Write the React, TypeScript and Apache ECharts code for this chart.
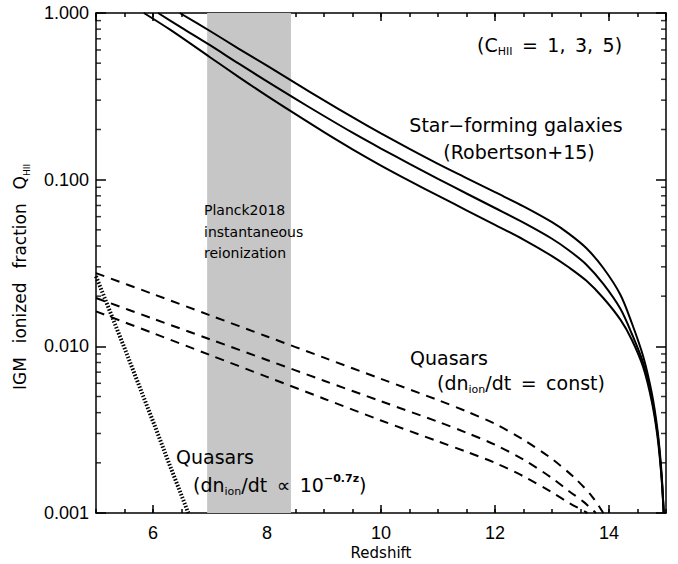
import React, { useEffect, useRef } from "react";
import * as echarts from "echarts";

const FONT = "'DejaVu Sans', sans-serif";
const TICK_FONT = "'Liberation Sans', Arial, sans-serif";

// Axis ranges and ticks
const xRange = [5, 15];
const yRange = [0.001, 1];
const xMinorInterval = 0.5;
const yMinorTicks = [
  0.002, 0.003, 0.004, 0.005, 0.006, 0.007, 0.008, 0.009,
  0.02, 0.03, 0.04, 0.05, 0.06, 0.07, 0.08, 0.09,
  0.2, 0.3, 0.4, 0.5, 0.6, 0.7, 0.8, 0.9,
];

// Planck2018 instantaneous reionization band (redshift range)
const bandRange = [6.95, 8.42];

// Star-forming galaxies (Robertson+15), C_HII = 1
const sfgC1Z = [6.47, 7.0, 7.5, 8.0, 8.5, 9.0, 9.5, 10, 10.5, 11, 11.5, 12, 12.5, 13, 13.3, 13.6, 13.9, 14.2, 14.4, 14.6, 14.75, 14.85, 14.92, 14.96];
const sfgC1Q = [1.0, 0.78, 0.612, 0.483, 0.3793, 0.2992, 0.2371, 0.1897, 0.1531, 0.1245, 0.1023, 0.0841, 0.0692, 0.0556, 0.0473, 0.0389, 0.0295, 0.0204, 0.0138, 0.0087, 0.00525, 0.00316, 0.00178, 0.001];
// C_HII = 3
const sfgC3Z = [6.09, 6.5, 7.0, 7.5, 8.0, 8.5, 9.0, 9.5, 10, 10.5, 11, 11.5, 12, 12.5, 13, 13.3, 13.6, 13.9, 14.2, 14.4, 14.6, 14.75, 14.85, 14.92, 14.96];
const sfgC3Q = [1.0, 0.817, 0.641, 0.498, 0.389, 0.305, 0.241, 0.1914, 0.1538, 0.1245, 0.1012, 0.0826, 0.0676, 0.0552, 0.0442, 0.0376, 0.031, 0.0237, 0.0168, 0.0119, 0.00794, 0.0049, 0.00302, 0.0017, 0.001];
// C_HII = 5
const sfgC5Z = [5.84, 6.3, 7.0, 7.5, 8.0, 8.5, 9.0, 9.5, 10, 10.5, 11, 11.5, 12, 12.5, 13, 13.3, 13.6, 13.9, 14.2, 14.4, 14.6, 14.75, 14.85, 14.92, 14.96];
const sfgC5Q = [1.0, 0.794, 0.543, 0.414, 0.318, 0.247, 0.1928, 0.1521, 0.1216, 0.0984, 0.0802, 0.0655, 0.0536, 0.0437, 0.0348, 0.0297, 0.0248, 0.0195, 0.01445, 0.01096, 0.0075, 0.00468, 0.00288, 0.00166, 0.001];

// Quasars, dn_ion/dt = const (C_HII = 1, 3, 5)
const qsoConstC1Z = [5, 6, 7, 8, 9, 10, 11, 11.5, 12, 12.5, 13, 13.4, 13.7, 13.9];
const qsoConstC1Q = [0.0275, 0.0206, 0.01535, 0.01146, 0.00855, 0.00638, 0.00476, 0.00407, 0.00343, 0.00275, 0.00211, 0.00162, 0.00126, 0.001];
const qsoConstC3Z = [5, 6, 7, 8, 9, 10, 11, 11.5, 12, 12.5, 13, 13.3, 13.55, 13.77];
const qsoConstC3Q = [0.0195, 0.01466, 0.01102, 0.00828, 0.00622, 0.00468, 0.00353, 0.00303, 0.00257, 0.00209, 0.00162, 0.00135, 0.00117, 0.001];
const qsoConstC5Z = [5, 6, 7, 8, 9, 10, 11, 11.5, 12, 12.5, 13, 13.3, 13.62];
const qsoConstC5Q = [0.0162, 0.012, 0.00887, 0.00656, 0.00485, 0.00359, 0.00269, 0.00233, 0.002, 0.00166, 0.00133, 0.00115, 0.001];

// Quasars, dn_ion/dt ∝ 10^(-0.7z)
const qsoExpZ = [5, 5.5, 6, 6.3, 6.62];
const qsoExpQ = [0.0263, 0.00977, 0.00355, 0.00191, 0.001];

const zip = (xs: number[], ys: number[]) => xs.map((x, i) => [x, ys[i]]);

const rich = {
  n: { fontSize: 19, fontFamily: FONT, color: "#000", lineHeight: 24 },
  s: { fontSize: 11, fontFamily: FONT, color: "#000", lineHeight: 10, verticalAlign: "bottom" },
  p: { fontSize: 11, fontFamily: FONT, fontWeight: "bold", color: "#000", lineHeight: 10, verticalAlign: "top" },
  t: { fontSize: 17, fontFamily: FONT, color: "#000", lineHeight: 22 },
  ts: { fontSize: 9, fontFamily: FONT, color: "#000", lineHeight: 8, verticalAlign: "bottom" },
};

const SP = "\u2002";
const GAP = "\u2002\u00A0";

function txt(x: number, y: number, text: string, align = "left", extra: any = {}) {
  return {
    type: "text",
    x,
    y,
    z: 10,
    ...extra,
    style: {
      text,
      rich,
      fill: "#000",
      align,
      textAlign: align,
      verticalAlign: "middle",
      textVerticalAlign: "middle",
      font: `19px ${FONT}`,
    },
  };
}

function plain(x: number, y: number, text: string, size: number, align = "left") {
  return {
    type: "text",
    x,
    y,
    z: 10,
    style: {
      text,
      fill: "#000",
      align,
      textAlign: align,
      verticalAlign: "middle",
      textVerticalAlign: "middle",
      fontSize: size,
      fontFamily: FONT,
      font: `${size}px ${FONT}`,
    },
  };
}

const majorX = (position: string, labels: boolean) => ({
  type: "value",
  min: xRange[0],
  max: xRange[1],
  splitNumber: 5,
  position,
  axisLine: { show: true, onZero: false, lineStyle: { color: "#000", width: 1.5 } },
  axisTick: { show: true, inside: true, length: 8, lineStyle: { color: "#000", width: 1.5 } },
  axisLabel: labels
    ? {
        show: true,
        color: "#000",
        fontFamily: TICK_FONT,
        fontSize: 18,
        margin: 11,
        showMinLabel: false,
        showMaxLabel: false,
      }
    : { show: false },
  splitLine: { show: false },
});

const minorX = (position: string) => ({
  type: "value",
  min: xRange[0],
  max: xRange[1],
  interval: xMinorInterval,
  position,
  axisLine: { show: false },
  axisTick: { show: true, inside: true, length: 4, lineStyle: { color: "#000", width: 1.5 } },
  axisLabel: { show: false },
  splitLine: { show: false },
});

const logY = (position: string, labels: boolean) => ({
  type: "log",
  logBase: 10,
  min: yRange[0],
  max: yRange[1],
  position,
  axisLine: { show: true, onZero: false, lineStyle: { color: "#000", width: 1.5 } },
  axisTick: { show: true, inside: true, length: 10, lineStyle: { color: "#000", width: 1.5 } },
  axisLabel: labels
    ? {
        color: "#000",
        fontFamily: TICK_FONT,
        fontSize: 18,
        margin: 7,
        formatter: (v: number) => Number(v).toFixed(3),
      }
    : { show: false },
  splitLine: { show: false },
  minorTick: { show: false },
});

export default function App() {
  const ref = useRef<HTMLDivElement>(null);

  useEffect(() => {
    if (!ref.current) return;
    const chart = echarts.init(ref.current, undefined, { renderer: "svg" });

    const solid = (data: number[][]) => ({
      type: "line",
      data,
      xAxisIndex: 0,
      yAxisIndex: 0,
      symbol: "none",
      showSymbol: false,
      smooth: 0.3,
      lineStyle: { color: "#000", width: 2 },
    });
    const dashed = (data: number[][]) => ({
      ...solid(data),
      lineStyle: { color: "#000", width: 2, type: [9, 7] },
    });

    const option: any = {
      animation: false,
      backgroundColor: "#fff",
      grid: { left: 96, right: 12, top: 13, bottom: 51, containLabel: false },
      xAxis: [majorX("bottom", true), majorX("top", false), minorX("bottom"), minorX("top")],
      yAxis: [logY("left", true), logY("right", false)],
      series: [
        {
          type: "line",
          data: [],
          xAxisIndex: 0,
          yAxisIndex: 0,
          z: 1,
          markArea: {
            silent: true,
            itemStyle: { color: "#c6c6c6", opacity: 1, borderWidth: 0 },
            data: [[{ xAxis: bandRange[0] }, { xAxis: bandRange[1] }]],
          },
        },
        {
          type: "scatter",
          data: yMinorTicks.map((v) => [xRange[0], v]),
          symbol: "rect",
          symbolSize: [5, 1.5],
          symbolOffset: [2.5, 0],
          itemStyle: { color: "#000" },
          clip: false,
        },
        {
          type: "scatter",
          data: yMinorTicks.map((v) => [xRange[1], v]),
          symbol: "rect",
          symbolSize: [5, 1.5],
          symbolOffset: [-2.5, 0],
          itemStyle: { color: "#000" },
          clip: false,
        },
        solid(zip(sfgC1Z, sfgC1Q)),
        solid(zip(sfgC3Z, sfgC3Q)),
        solid(zip(sfgC5Z, sfgC5Q)),
        dashed(zip(qsoConstC1Z, qsoConstC1Q)),
        dashed(zip(qsoConstC3Z, qsoConstC3Q)),
        dashed(zip(qsoConstC5Z, qsoConstC5Q)),
        {
          ...solid(zip(qsoExpZ, qsoExpQ)),
          smooth: false,
          lineStyle: { color: "#000", width: 4, type: [1.5, 1.7] },
        },
      ],
      graphic: [
        txt(477, 45, `{n|(C}{s|HII}{n|${SP}=${SP}1,${SP}3,${SP}5)}`),
        txt(516, 125, `{n|Star\u2212forming galaxies}`, "center"),
        txt(519, 152, `{n|(Robertson+15)}`, "center"),
        plain(204, 210, "Planck2018", 14),
        plain(204, 232, "instantaneous", 14),
        plain(204, 253, "reionization", 14),
        txt(410, 358, `{n|Quasars}`),
        txt(437, 383, `{n|(dn}{s|ion}{n|/dt${SP}=${SP}const)}`),
        txt(176, 457, `{n|Quasars}`),
        txt(193, 485, `{n|(dn}{s|ion}{n|/dt${SP}\u221D${SP}10}{p|\u22120.7z}{n|)}`),
        plain(381, 553, "Redshift", 15, "center"),
        txt(20, 277, `{t|IGM${GAP}ionized${GAP}fraction${GAP}Q}{ts|HII}`, "center", { rotation: Math.PI / 2 }),
      ],
    };

    chart.setOption(option);
    return () => chart.dispose();
  }, []);

  return (
    <div
      ref={ref}
      style={{ position: "fixed", left: 0, top: 0, width: 678, height: 564, background: "#fff" }}
    />
  );
}
